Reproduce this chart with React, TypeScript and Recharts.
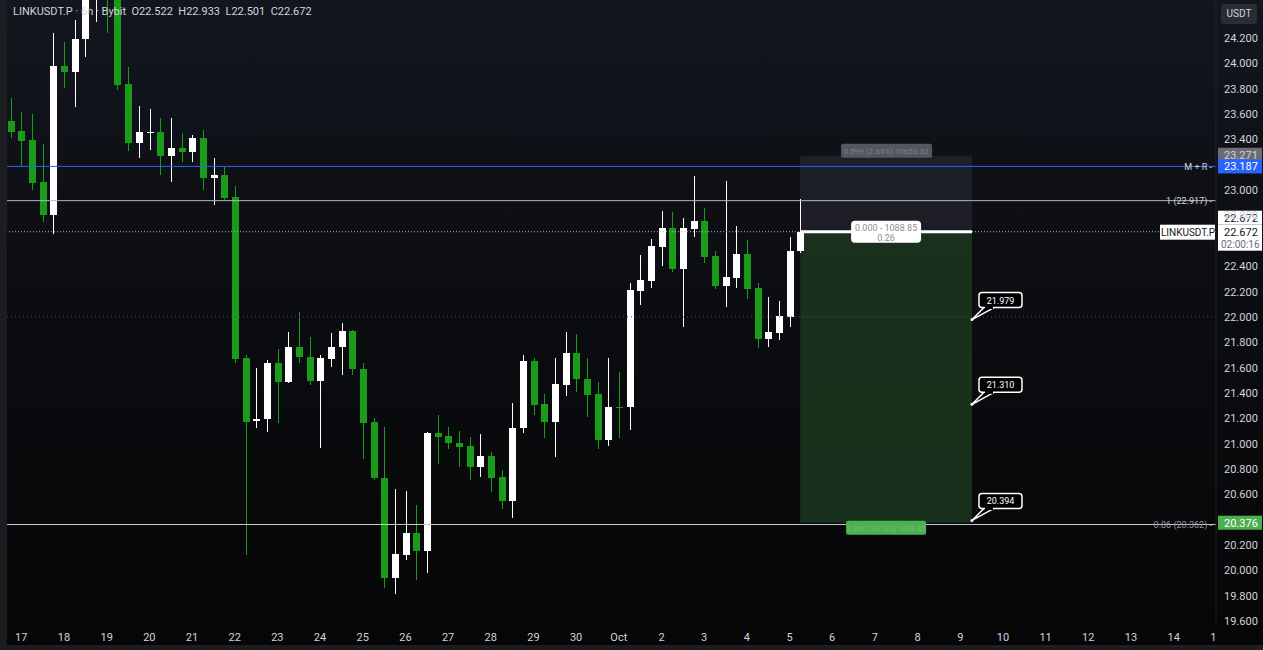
import {
  ComposedChart,
  Bar,
  XAxis,
  YAxis,
  ReferenceLine,
  ReferenceArea,
  ReferenceDot,
} from "recharts";

// LINKUSDT.P 6h candles, Sep 16 18:00 -> Oct 5 00:00
const opens = [
  23.545, 23.466, 23.395, 23.064, 22.804, 23.979, 23.932, 24.192, 24.62, 24.8,
  24.58, 23.837, 23.372, 23.455, 23.458, 23.269, 23.332, 23.301, 23.411, 23.096,
  23.119, 22.946, 21.676, 21.179, 21.194, 21.636, 21.486, 21.762, 21.683, 21.494,
  21.668, 21.762, 21.889, 21.589, 21.171, 20.729, 19.94, 20.121, 20.295, 20.153,
  21.084, 21.06, 21.005, 20.981, 20.816, 20.902, 20.737, 20.547, 21.123, 21.652,
  21.313, 21.171, 21.463, 21.715, 21.51, 21.392, 21.029, 21.289, 21.289, 22.204,
  22.283, 22.551, 22.701, 22.378, 22.693, 22.756, 22.48, 22.244, 22.307, 22.496,
  22.228, 21.825, 21.873, 21.999, 22.522,
];
const closes = [
  23.458, 23.387, 23.056, 22.804, 23.979, 23.932, 24.192, 24.62, 24.8, 24.58,
  23.829, 23.372, 23.458, 23.462, 23.269, 23.332, 23.301, 23.411, 23.096, 23.119,
  22.938, 21.668, 21.171, 21.194, 21.636, 21.486, 21.762, 21.683, 21.494, 21.676,
  21.762, 21.889, 21.589, 21.163, 20.729, 19.94, 20.129, 20.295, 20.153, 21.084,
  21.052, 21.005, 20.973, 20.816, 20.902, 20.729, 20.547, 21.123, 21.652, 21.305,
  21.171, 21.47, 21.715, 21.51, 21.384, 21.029, 21.289, 21.285, 22.212, 22.291,
  22.559, 22.701, 22.378, 22.701, 22.756, 22.472, 22.244, 22.315, 22.496, 22.22,
  21.825, 21.881, 22.007, 22.52, 22.672,
];
const highs = [
  23.727, 23.616, 23.6, 23.364, 24.239, 24.168, 24.342, 24.7, 24.92, 24.95,
  24.66, 23.971, 23.664, 23.64, 23.569, 23.569, 23.451, 23.435, 23.474, 23.253,
  23.182, 23.032, 21.7, 21.597, 21.66, 21.747, 21.881, 22.038, 21.841, 21.699,
  21.873, 21.952, 21.896, 21.636, 21.202, 21.131, 20.642, 20.626, 20.516, 21.092,
  21.226, 21.131, 21.1, 21.052, 21.076, 20.934, 20.792, 21.321, 21.699, 21.676,
  21.392, 21.676, 21.881, 21.865, 21.676, 21.486, 21.676, 21.565, 22.267, 22.488,
  22.614, 22.835, 22.827, 22.78, 23.111, 22.859, 22.52, 23.072, 22.717, 22.606,
  22.267, 22.157, 22.125, 22.63, 22.933,
];
const lows = [
  23.411, 23.182, 23.001, 22.748, 22.654, 23.806, 23.656, 24.05, 24.326, 24.239,
  23.79, 23.309, 23.253, 23.316, 23.119, 23.064, 23.222, 23.222, 23.001, 22.883,
  22.922, 21.636, 20.121, 21.123, 21.092, 21.163, 21.478, 21.636, 21.463, 20.966,
  21.605, 21.541, 21.541, 20.879, 20.713, 19.861, 19.814, 20.082, 19.924, 19.979,
  20.839, 20.958, 20.816, 20.713, 20.737, 20.618, 20.484, 20.413, 21.084, 21.226,
  21.044, 20.895, 21.376, 21.407, 21.21, 20.958, 20.981, 21.044, 21.108, 22.094,
  22.228, 22.401, 22.354, 21.92, 22.63, 22.425, 22.22, 22.078, 22.228, 22.141,
  21.754, 21.762, 21.818, 21.92, 22.501,
];

const dayTicks = [
  1, 5, 9, 13, 17, 21, 25, 29, 33, 37, 41, 45, 49, 53, 57, 61, 65, 69, 73, 77,
  81, 85, 89, 93, 97, 101, 105, 109, 113,
];
const dayLabels = [
  "17", "18", "19", "20", "21", "22", "23", "24", "25", "26", "27", "28", "29",
  "30", "Oct", "2", "3", "4", "5", "6", "7", "8", "9", "10", "11", "12", "13",
  "14", "15",
];
const priceTicks = [
  19.6, 19.8, 20.0, 20.2, 20.4, 20.6, 20.8, 21.0, 21.2, 21.4, 21.6, 21.8, 22.0,
  22.2, 22.4, 22.6, 22.8, 23.0, 23.2, 23.4, 23.6, 23.8, 24.0, 24.2,
];
// tick labels hidden behind the price tags on the scale
const coveredTicks = [20.4, 22.6, 23.2];

// drawings
const mrLevel = 23.187;
const fibOne = 22.917;
const fib086 = 20.362;
const lastPrice = 22.672;
const stopPrice = 23.271;
const targetPrice = 20.376;
const posStart = 74;
const posEnd = 90.1;
const callouts = [21.979, 21.31, 20.394];

const X_MIN = -0.34;
const X_MAX = 112.97;
const UP = "#ffffff";
const DOWN = "#1a9c1a";
const FONT = "Roboto, 'Noto Sans', sans-serif";

const rows = opens.map((o, i) => ({
  t: i,
  open: o,
  close: closes[i],
  high: highs[i],
  low: lows[i],
  range: [lows[i], highs[i]],
}));

const Candle = (props: any) => {
  let { x, y, width, height, payload } = props;
  if (height < 0) {
    y += height;
    height = -height;
  }
  const { open, close, high, low } = payload;
  const color = close >= open ? UP : DOWN;
  const span = high - low || 1;
  const py = (v: number) => y + ((high - v) / span) * height;
  const cx = Math.round(x + width / 2);
  const top = py(Math.max(open, close));
  const bot = py(Math.min(open, close));
  return (
    <g shapeRendering="crispEdges">
      <line x1={cx + 0.5} x2={cx + 0.5} y1={y} y2={y + height} stroke={color} />
      <rect x={cx - 3} y={top} width={7} height={Math.max(1, bot - top)} fill={color} />
    </g>
  );
};

const XTick = (props: any) => {
  const { x, y, payload } = props;
  const idx = dayTicks.indexOf(payload.value);
  const id = `xclip${payload.value}`;
  return (
    <g>
      <defs>
        <clipPath id={id}>
          <rect x={0} y={y - 5} width={1210} height={30} />
        </clipPath>
      </defs>
      <text
        x={x}
        y={y}
        dy={10}
        textAnchor="middle"
        fill="#d1d4dc"
        fontSize={11}
        fontFamily={FONT}
        clipPath={`url(#${id})`}
      >
        {dayLabels[idx]}
      </text>
    </g>
  );
};

const YTick = (props: any) => {
  const { x, y, payload } = props;
  if (coveredTicks.some((c) => Math.abs(c - payload.value) < 1e-6)) return <g />;
  return (
    <text x={x} y={y} dy={4} textAnchor="start" fill="#d1d4dc" fontSize={11} fontFamily={FONT}>
      {payload.value.toFixed(3)}
    </text>
  );
};

const axisTag = (text: string, bg: string, fg: string, dy = 0, sub?: string) =>
  (p: any) => {
    const h = sub ? 26 : 14;
    const top = p.cy + dy - 7;
    return (
      <g>
        <rect x={p.cx + 2} y={top} width={44} height={h} fill={bg} />
        <text x={p.cx + 8} y={top + 11} fill={fg} fontSize={11} fontFamily={FONT}>
          {text}
        </text>
        {sub && (
          <text x={p.cx + 5} y={top + 23} fill="#6a6d78" fontSize={10} fontFamily={FONT}>
            {sub}
          </text>
        )}
      </g>
    );
  };

const symbolTag = (p: any) => (
  <g>
    <rect x={p.cx - 56} y={p.cy - 7} width={55} height={15} fill="#ffffff" />
    <text x={p.cx - 28} y={p.cy + 4} textAnchor="middle" fill="#131722" fontSize={10} fontFamily={FONT}>
      LINKUSDT.P
    </text>
  </g>
);

const callout = (value: number) => (p: any) => {
  const { cx, cy } = p;
  const bx = cx + 7;
  const by = cy - 27;
  return (
    <g>
      <path
        d={`M${cx + 12},${cy - 12} L${cx},${cy} L${cx + 22},${cy - 12}`}
        fill="#000"
        stroke="#fff"
        strokeWidth={1.5}
      />
      <rect x={bx} y={by} width={43} height={15} rx={3} fill="#000" stroke="#fff" strokeWidth={1.5} />
      <rect x={cx + 13} y={cy - 13.5} width={8} height={3} fill="#000" />
      <circle cx={cx} cy={cy} r={1.5} fill="#fff" />
      <text x={bx + 21.5} y={by + 11} textAnchor="middle" fill="#fff" fontSize={9} fontFamily={FONT}>
        {value.toFixed(3)}
      </text>
    </g>
  );
};

const entryLabel = (p: any) => (
  <g>
    <rect x={p.cx - 35} y={p.cy - 11} width={70} height={22} rx={4} fill="#fff" />
    <text x={p.cx} y={p.cy - 1} textAnchor="middle" fill="#8a8d96" fontSize={9} fontFamily={FONT}>
      0.000 - 1088.85
    </text>
    <text x={p.cx} y={p.cy + 9} textAnchor="middle" fill="#8a8d96" fontSize={9} fontFamily={FONT}>
      0.26
    </text>
  </g>
);

const stopLabel = (p: any) => (
  <g>
    <rect x={p.cx - 45} y={p.cy - 12} width={91} height={14} rx={2} fill="#55575e" />
    <text x={p.cx} y={p.cy - 2} textAnchor="middle" fill="#7c7f88" fontSize={8} fontFamily={FONT}>
      0.599 (2.64%) 10653.32
    </text>
  </g>
);

const targetLabel = (p: any) => (
  <g>
    <rect x={p.cx - 40} y={p.cy - 2} width={80} height={14} rx={2} fill="#4caf50" />
    <text x={p.cx} y={p.cy + 8} textAnchor="middle" fill="#6cc06f" fontSize={7.5} fontFamily={FONT}>
      2.296 (10.13%) 1088.85
    </text>
  </g>
);

const lineLabel = (text: string, color: string) => ({
  value: text,
  position: "insideRight" as const,
  fill: color,
  fontSize: 9,
  fontFamily: FONT,
  offset: 4,
});

export default function App() {
  return (
    <div
      style={{
        position: "absolute",
        left: 0,
        top: 0,
        width: 1263,
        height: 650,
        background: "#1c1d21",
        overflow: "hidden",
      }}
    >
      <div
        style={{
          position: "absolute",
          left: 7,
          top: 0,
          width: 1256,
          height: 645,
          background: "linear-gradient(#13161e 0%, #0c0d12 45%, #060606 100%)",
        }}
      >
        <ComposedChart
          width={1256}
          height={645}
          data={rows}
          margin={{ top: 0, right: 0, bottom: 0, left: 0 }}
        >
          <XAxis
            dataKey="t"
            type="number"
            domain={[X_MIN, X_MAX]}
            allowDataOverflow
            ticks={dayTicks}
            interval={0}
            height={20}
            tickSize={0}
            tickMargin={6}
            axisLine={false}
            tickLine={false}
            tick={(p: any) => <XTick {...p} />}
          />
          <YAxis
            orientation="right"
            domain={[19.569, 24.5]}
            allowDataOverflow
            ticks={priceTicks}
            interval={0}
            width={47}
            tickSize={0}
            tickMargin={8}
            tickLine={false}
            axisLine={{ stroke: "#1f222b" }}
            tick={(p: any) => <YTick {...p} />}
          />
          <ReferenceArea
            x1={posStart}
            x2={posEnd}
            y1={lastPrice}
            y2={stopPrice}
            fill="#3a3d46"
            fillOpacity={0.35}
            stroke="none"
          />
          <ReferenceArea
            x1={posStart}
            x2={posEnd}
            y1={targetPrice}
            y2={lastPrice}
            fill="#1d3a1f"
            fillOpacity={0.8}
            stroke="none"
          />
          <ReferenceLine y={22.0} stroke="#4a4c52" strokeDasharray="1 3" />
          <ReferenceLine y={lastPrice} stroke="#b2b5be" strokeDasharray="1 2" />
          <ReferenceLine y={mrLevel} stroke="#2962ff" label={lineLabel("M + R -", "#d1d4dc")} />
          <ReferenceLine y={fibOne} stroke="#b2b5be" label={lineLabel("1 (22.917) -", "#d1d4dc")} />
          <ReferenceLine y={fib086} stroke="#c8cad0" label={lineLabel("0.86 (20.362) -", "#9598a1")} />
          <Bar
            dataKey="range"
            barSize={7}
            isAnimationActive={false}
            shape={(p: any) => <Candle {...p} />}
          />
          <ReferenceLine
            segment={[
              { x: posStart, y: lastPrice },
              { x: posEnd, y: lastPrice },
            ]}
            stroke="#ffffff"
            strokeWidth={3}
          />
          {callouts.map((v) => (
            <ReferenceDot key={v} x={posEnd} y={v} r={2} ifOverflow="visible" shape={callout(v)} />
          ))}
          <ReferenceDot x={(posStart + posEnd) / 2} y={lastPrice} ifOverflow="visible" shape={entryLabel} />
          <ReferenceDot x={(posStart + posEnd) / 2} y={stopPrice} ifOverflow="visible" shape={stopLabel} />
          <ReferenceDot x={(posStart + posEnd) / 2} y={targetPrice} ifOverflow="visible" shape={targetLabel} />
          <ReferenceDot x={X_MAX} y={lastPrice} ifOverflow="visible" shape={symbolTag} />
          <ReferenceDot x={X_MAX} y={stopPrice} ifOverflow="visible" shape={axisTag("23.271", "#6a6d75", "#d1d4dc", -1)} />
          <ReferenceDot x={X_MAX} y={mrLevel} ifOverflow="visible" shape={axisTag("23.187", "#2962ff", "#ffffff")} />
          <ReferenceDot x={X_MAX} y={lastPrice} ifOverflow="visible" shape={axisTag("22.672", "#ffffff", "#131722", -14)} />
          <ReferenceDot x={X_MAX} y={lastPrice} ifOverflow="visible" shape={axisTag("22.672", "#ffffff", "#131722", 0, "02:00:16")} />
          <ReferenceDot x={X_MAX} y={targetPrice} ifOverflow="visible" shape={axisTag("20.376", "#4caf50", "#ffffff")} />
        </ComposedChart>
      </div>
      <div
        style={{
          position: "absolute",
          left: 13,
          top: 5,
          color: "#d1d4dc",
          fontFamily: FONT,
          fontSize: 11,
          whiteSpace: "pre",
        }}
      >
        {"LINKUSDT.P · 6h · Bybit  O22.522  H22.933  L22.501  C22.672"}
      </div>
      <div
        style={{
          position: "absolute",
          left: 1221,
          top: 4,
          width: 36,
          height: 20,
          borderRadius: 3,
          background: "#2a2d35",
          color: "#d1d4dc",
          fontFamily: FONT,
          fontSize: 10,
          lineHeight: "20px",
          textAlign: "center",
        }}
      >
        USDT
      </div>
    </div>
  );
}
